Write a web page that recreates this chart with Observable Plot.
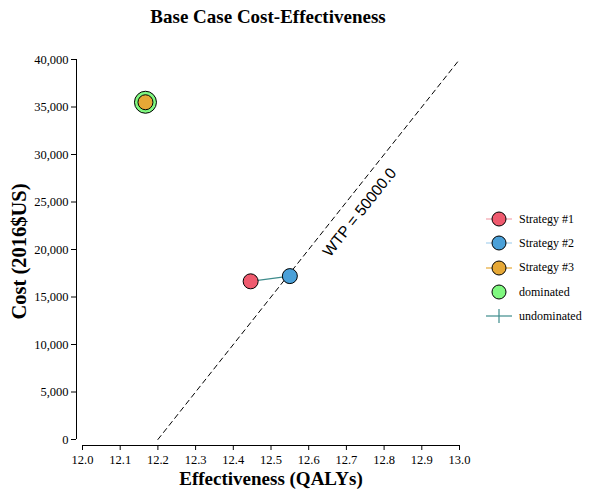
<!DOCTYPE html>
<html><head><meta charset="utf-8">
<script src="https://cdn.jsdelivr.net/npm/d3@7"></script>
<script src="https://cdn.jsdelivr.net/npm/@observablehq/plot@0.6"></script>
<style>
body{margin:0;background:#fff;}
#wrap{position:relative;width:589px;height:494px;font-family:"Liberation Serif","Times New Roman",serif;overflow:hidden;}
#title{position:absolute;left:0;width:536px;top:6px;text-align:center;font-weight:bold;font-size:19px;}
#chart{position:absolute;left:0;top:0;}
#legend{position:absolute;left:484px;top:207px;font-size:12px;font-family:"Liberation Serif","Times New Roman",serif;}
.lrow{display:flex;align-items:center;height:24.3px;}
.lrow svg{display:block;margin-right:5px;}
</style></head><body>
<div id="wrap"><div id="chart"></div><div id="title">Base Case Cost-Effectiveness</div><div id="legend"></div></div>
<script>
// ---- data ----
const strategies = ["Strategy #1", "Strategy #2", "Strategy #3"];
const effectiveness = [12.446, 12.550, 12.167];
const cost = [16650, 17200, 35500];
const dominated = [false, false, true];
const strategyColors = ["#ef5a6e", "#4aa0d8", "#e6a836"];
const legendLineColors = ["#f4a3ad", "#a9d3ee", "#e6a836"];
const dominatedColor = "#80f880";
const frontierColor = "#3d8b8b";
const wtp = 50000;
const wtpZeroEffect = 12.2;   // where WTP line crosses cost 0
const wtpLabelEffect = 12.735;
const xTicks = [12.0, 12.1, 12.2, 12.3, 12.4, 12.5, 12.6, 12.7, 12.8, 12.9, 13.0];
const yTicks = [0, 5000, 10000, 15000, 20000, 25000, 30000, 35000, 40000];
const xDomain = [12.0, 13.0];
const yDomain = [0, 40000];

const serif = "'Liberation Serif', 'Times New Roman', serif";
const rows = strategies.map((s, i) => ({name: s, x: effectiveness[i], y: cost[i], dominated: dominated[i]}));
const frontier = rows.filter(d => !d.dominated).sort((a, b) => a.x - b.x);
const wtpLine = [
  {x: wtpZeroEffect, y: 0},
  {x: xDomain[1], y: wtp * (xDomain[1] - wtpZeroEffect)}
];
const wtpLabel = [{x: wtpLabelEffect, y: wtp * (wtpLabelEffect - wtpZeroEffect), text: "WTP = " + wtp.toFixed(1)}];

const W = 589, H = 494, mL = 82, mR = 130, mT = 59, mB = 55;
const kx = (W - mL - mR) / (xDomain[1] - xDomain[0]);
const ky = (H - mT - mB) / (yDomain[1] - yDomain[0]);
const angle = Math.atan(wtp * ky / kx) * 180 / Math.PI;

const plot = Plot.plot({
  width: W, height: H,
  marginLeft: mL, marginRight: mR, marginTop: mT, marginBottom: mB,
  style: {fontFamily: serif, fontSize: "12px", background: "white", overflow: "visible"},
  x: {domain: xDomain},
  y: {domain: yDomain},
  color: {domain: strategies, range: strategyColors},
  marks: [
    Plot.ruleX([xDomain[0]], {y1: yDomain[0], y2: yDomain[1], dx: -6, stroke: "#000"}),
    Plot.ruleY([yDomain[0]], {x1: xDomain[0], x2: xDomain[1], dy: 6, stroke: "#000"}),
    Plot.axisY(yTicks, {tickSize: 5, dx: -6, tickPadding: 3, tickFormat: d3.format(","), label: null, fontSize: 12.5, fontFamily: serif}),
    Plot.axisX(xTicks, {tickSize: 5, dy: 6, tickPadding: 5, tickFormat: d3.format(".1f"), label: null, fontSize: 12.5, fontFamily: serif}),
    Plot.text(["Effectiveness (QALYs)"], {frameAnchor: "bottom", dy: 45, fontWeight: "bold", fontSize: 19, fontFamily: serif}),
    Plot.text(["Cost (2016$US)"], {frameAnchor: "left", textAnchor: "middle", rotate: -90, dx: -63, dy: 2, fontWeight: "bold", fontSize: 20.5, fontFamily: serif}),
    Plot.line(wtpLine, {x: "x", y: "y", stroke: "#000", strokeWidth: 1, strokeDasharray: "5,4"}),
    Plot.text(wtpLabel, {x: "x", y: "y", text: "text", rotate: -angle, dx: 0, dy: 27, fontSize: 15.5,
      fontFamily: "'Liberation Sans', Arial, sans-serif", fill: "#000"}),
    Plot.line(frontier, {x: "x", y: "y", stroke: frontierColor, strokeWidth: 1.2}),
    Plot.dot(rows.filter(d => d.dominated), {x: "x", y: "y", r: 11, fill: dominatedColor, stroke: "#000", strokeWidth: 1}),
    Plot.dot(rows, {x: "x", y: "y", r: 7.5, fill: "name", stroke: "#000", strokeWidth: 1})
  ]
});
document.getElementById("chart").appendChild(plot);

// ---- legend ----
const legendItems = strategies.map((s, i) => ({label: s, line: legendLineColors[i], fill: strategyColors[i], type: "strategy"}))
  .concat([{label: "dominated", fill: dominatedColor, type: "dominated"}, {label: "undominated", line: frontierColor, type: "undominated"}]);
const leg = d3.select("#legend");
legendItems.forEach(it => {
  const row = leg.append("div").attr("class", "lrow");
  const svg = row.append("svg").attr("width", 30).attr("height", 20);
  if (it.line) svg.append("line").attr("x1", 2).attr("x2", 28).attr("y1", 10).attr("y2", 10).attr("stroke", it.line).attr("stroke-width", 1.2);
  if (it.type === "undominated") svg.append("line").attr("x1", 15).attr("x2", 15).attr("y1", 3).attr("y2", 17).attr("stroke", it.line).attr("stroke-width", 1.2);
  if (it.fill) svg.append("circle").attr("cx", 15).attr("cy", 10).attr("r", 7).attr("fill", it.fill).attr("stroke", "#000").attr("stroke-width", 1);
  row.append("span").text(it.label);
});
</script>
</body></html>
